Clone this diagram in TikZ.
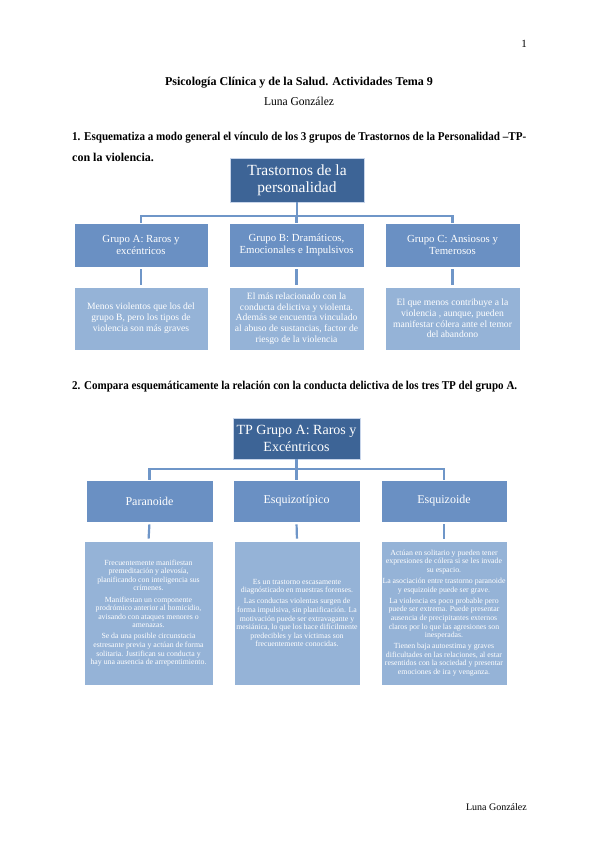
\documentclass[tikz,border=0pt]{standalone}
\usepackage{fontspec}
\usepackage{graphicx}
\setmainfont{Liberation Serif}
\usetikzlibrary{calc}
\definecolor{dkblue}{HTML}{3D6496}
\definecolor{mdblue}{HTML}{6A90C3}
\definecolor{ltblue}{HTML}{95B3D7}
\definecolor{conncol}{HTML}{6F96C8}
\definecolor{edgecol}{HTML}{C8D5EA}
\begin{document}
\begin{tikzpicture}[x=1pt,y=-1pt,
  topbox/.style={fill=dkblue, draw=edgecol, line width=0.8pt, text=white, inner sep=0pt, align=center, font=\fontsize{15.5}{17}\selectfont},
  midbox/.style={fill=mdblue, draw=white, line width=0.8pt, text=white, inner sep=0pt, align=center, font=\fontsize{10.8}{12}\selectfont},
  lowbox/.style={fill=ltblue, draw=white, line width=0.8pt, text=white, inner sep=0pt, align=center, font=\fontsize{9.6}{10.8}\selectfont},
  tinybox/.style={fill=ltblue, draw=white, line width=0.8pt, text=white, inner sep=0pt, align=center, font=\fontsize{7.8}{8.6}\selectfont},
  conn/.style={draw=conncol, line width=2.2pt},
  stub/.style={conn, shorten <=2pt, shorten >=2pt},
  head/.style={inner sep=0pt, text=black, font=\fontsize{12}{14}\selectfont}]
\useasboundingbox[fill=white] (0,0) rectangle (599,848);

% header texts
\node[head, font=\fontsize{11}{13}\selectfont] (pnum) at (524,44) {1};
\node[head] (title) at (299,83) {\resizebox{268pt}{\height}{\bfseries Psicología Clínica y de la Salud. Actividades Tema 9}};
\node[head] (author) at (299,101) {\resizebox{70pt}{\height}{Luna González}};
\node[head, anchor=west] (q1a) at (72,138) {\resizebox{454pt}{\height}{\bfseries 1. Esquematiza a modo general el vínculo de los 3 grupos de Trastornos de la Personalidad –TP-}};
\node[head, anchor=west] (q1b) at (72,157) {\bfseries con la violencia.};
\node[head, anchor=west] (q2) at (72,387) {\resizebox{445pt}{\height}{\bfseries 2. Compara esquemáticamente la relación con la conducta delictiva de los tres TP del grupo A.}};
\node[head, anchor=east, font=\fontsize{10}{12}\selectfont] (foot) at (527,807) {Luna González};

% diagram 1
\node[topbox, minimum width=134pt, minimum height=44pt] (t1) at (297,180) {Trastornos de la\\personalidad};
\node[midbox, minimum width=134pt, minimum height=44pt] (a1) at (141,245) {Grupo A: Raros y\\excéntricos};
\node[midbox, minimum width=135pt, minimum height=44pt] (b1) at (296.5,245) {Grupo B: Dramáticos,\\Emocionales e Impulsivos};
\node[midbox, minimum width=135pt, minimum height=44pt] (c1) at (452.5,245) {Grupo C: Ansiosos y\\Temerosos};
\node[lowbox, minimum width=134pt, minimum height=63pt] (a1l) at (141,318.5) {Menos violentos que los del\\grupo B, pero los tipos de\\violencia son más graves};
\node[lowbox, minimum width=135pt, minimum height=63pt] (b1l) at (296.5,318.5) {El más relacionado con la\\conducta delictiva y violenta.\\Además se encuentra vinculado\\al abuso de sustancias, factor de\\riesgo de la violencia};
\node[lowbox, minimum width=135pt, minimum height=63pt] (c1l) at (452.5,318.5) {El que menos contribuye a la\\violencia , aunque, pueden\\manifestar cólera ante el temor\\del abandono};

\coordinate (bus1) at (297,216);
\draw[conn] (t1.south) -- (t1.south|-bus1);
\draw[conn] (a1.north) -- (a1.north|-bus1) -- (c1.north|-bus1) -- (c1.north);
\draw[conn] (b1.north) -- (b1.north|-bus1);
\draw[stub] (a1.south) -- (a1l.north);
\draw[stub] (b1.south) -- (b1l.north);
\draw[stub] (c1.south) -- (c1l.north);

% diagram 2
\node[topbox, font=\fontsize{14}{16.5}\selectfont, minimum width=127pt, minimum height=41pt] (t2) at (296.5,438.5) {TP Grupo A: Raros y\\Excéntricos};
\node[midbox, font=\fontsize{12}{14}\selectfont, minimum width=127pt, minimum height=42pt] (a2) at (149.5,501) {Paranoide};
\node[midbox, font=\fontsize{12}{14}\selectfont, minimum width=127pt, minimum height=42pt] (b2) at (296.5,501) {Esquizotípico};
\node[midbox, font=\fontsize{12}{14}\selectfont, minimum width=126pt, minimum height=42pt] (c2) at (444,501) {Esquizoide};

\node[tinybox, minimum width=129pt, minimum height=144pt] (a2l) at (148.5,613) {Frecuentemente manifiestan\\premeditación y alevosía,\\planificando con inteligencia sus\\crímenes.\\[2.5pt]
Manifiestan un componente\\prodrómico anterior al homicidio,\\avisando con ataques menores o\\amenazas.\\[2.5pt]
Se da una posible circunstacia\\estresante previa y actúan de forma\\solitaria. Justifican su conducta y\\hay una ausencia de arrepentimiento.};
\node[tinybox, minimum width=126pt, minimum height=144pt] (b2l) at (297,613) {Es un trastorno escasamente\\diagnósticado en muestras forenses.\\[2.5pt]
Las conductas violentas surgen de\\forma impulsiva, sin planificación. La\\motivación puede ser extravagante y\\mesiánica, lo que los hace difícilmente\\predecibles y las víctimas son\\frecuentemente conocidas.};
\node[tinybox, minimum width=126pt, minimum height=144pt] (c2l) at (444,613) {Actúan en solitario y pueden tener\\expresiones de cólera si se les invade\\su espacio.\\[2.5pt]
La asociación entre trastorno paranoide\\y esquizoide puede ser grave.\\[2.5pt]
La violencia es poco probable pero\\puede ser extrema. Puede presentar\\ausencia de precipitantes externos\\claros por lo que las agresiones son\\inesperadas.\\[2.5pt]
Tienen baja autoestima y graves\\dificultades en las relaciones, al estar\\resentidos con la sociedad y presentar\\emociones de ira y venganza.};

\coordinate (bus2) at (297,469);
\draw[conn] (t2.south) -- (t2.south|-bus2);
\draw[conn] (a2.north) -- (a2.north|-bus2) -- (c2.north|-bus2) -- (c2.north);
\draw[conn] (b2.north) -- (b2.north|-bus2);
\draw[stub] (a2.south) -- (a2l.north);
\draw[stub] (b2.south) -- (b2l.north);
\draw[stub] (c2.south) -- (c2l.north);
\end{tikzpicture}
\end{document}
